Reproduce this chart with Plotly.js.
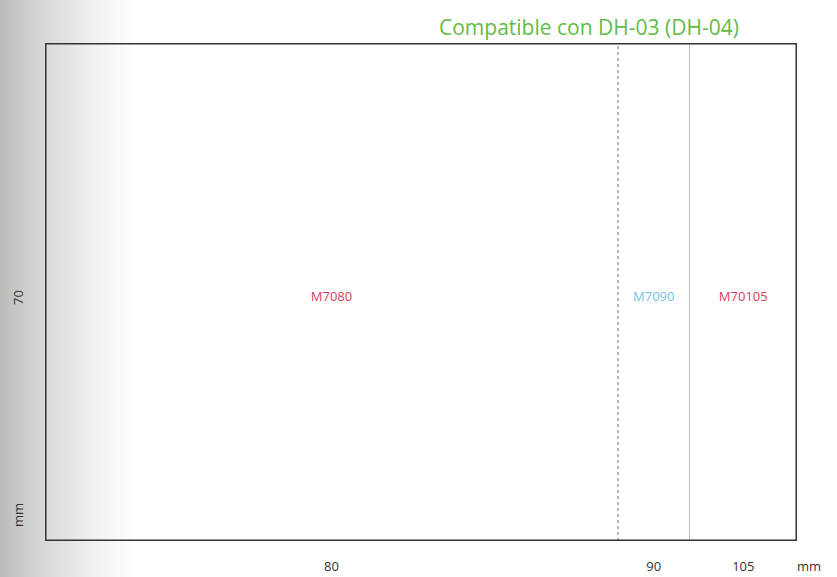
<!DOCTYPE html>
<html>
<head>
<meta charset="utf-8">
<script src="https://cdn.plot.ly/plotly-3.0.1.min.js"></script>
<style>
html,body{margin:0;padding:0;width:837px;height:577px;overflow:hidden;
background:linear-gradient(to right,#bcbcbc 0px,#d6d6d6 40px,#ececec 85px,#fafafa 120px,#ffffff 140px);}
#chart{width:837px;height:577px;}
</style>
</head>
<body>
<div id="chart"></div>
<script>
// Data
const widths = [80, 90, 105];            // label width boundaries (mm)
const models = ['M7080', 'M7090', 'M70105'];
const modelColors = ['#d8405e', '#6cc4e4', '#d8405e'];
const tickLabels = ['80', '90', '105'];
const heightMM = 70;
const heightLabel = '70';
const titleText = 'Compatible con DH-03 (DH-04)';

// midpoints of each segment
const mids = widths.map((w, i) => ((i === 0 ? 0 : widths[i - 1]) + w) / 2);

const trace = {
  x: mids,
  y: mids.map(() => heightMM * 0.488),
  mode: 'text',
  text: models,
  textfont: {family: 'Open Sans, sans-serif', size: 13, color: modelColors},
  textposition: 'middle center',
  hoverinfo: 'none',
  showlegend: false
};

const shapes = [
  {type: 'line', xref: 'x', yref: 'y', x0: widths[0], x1: widths[0], y0: 0, y1: heightMM,
   line: {color: '#a0a0a0', width: 1.5, dash: 'dot'}},
  {type: 'line', xref: 'x', yref: 'y', x0: widths[1], x1: widths[1], y0: 0, y1: heightMM,
   line: {color: '#b8b8b8', width: 1}},
  {type: 'rect', xref: 'x', yref: 'y', x0: 0, x1: widths[2], y0: 0, y1: heightMM,
   line: {color: '#333333', width: 3}}
];

const layout = {
  width: 837, height: 577,
  margin: {l: 45, r: 40, t: 43, b: 36},
  paper_bgcolor: 'rgba(0,0,0,0)',
  plot_bgcolor: 'rgba(0,0,0,0)',
  xaxis: {range: [0, widths[2]], showgrid: false, zeroline: false, showline: false,
          tickvals: mids, ticktext: tickLabels, ticks: '', ticklabelstandoff: 16,
          tickfont: {family: 'Open Sans, sans-serif', size: 13, color: '#333'}, fixedrange: true},
  yaxis: {range: [0, heightMM], showgrid: false, zeroline: false, showline: false,
          showticklabels: false, ticks: '', fixedrange: true},
  shapes: shapes,
  annotations: [
    {text: titleText, xref: 'paper', yref: 'paper', x: (589 - 45) / 752, y: 1, yshift: 16,
     xanchor: 'center', yanchor: 'middle', showarrow: false,
     font: {family: 'Liberation Sans Narrow, Open Sans, sans-serif', size: 21, color: '#62bb48'}},
    {text: heightLabel, xref: 'paper', yref: 'paper', x: 0, xshift: -27, y: 0.488,
     textangle: -90, showarrow: false, xanchor: 'center', yanchor: 'middle',
     font: {family: 'Open Sans, sans-serif', size: 13, color: '#333'}},
    {text: 'mm', xref: 'paper', yref: 'paper', x: 0, xshift: -27, y: 0.052,
     textangle: -90, showarrow: false, xanchor: 'center', yanchor: 'middle',
     font: {family: 'Open Sans, sans-serif', size: 13, color: '#333'}},
    {text: 'mm', xref: 'paper', yref: 'paper', x: 1, xshift: 12, y: 0, yshift: -25,
     showarrow: false, xanchor: 'center', yanchor: 'middle',
     font: {family: 'Open Sans, sans-serif', size: 13, color: '#333'}}
  ]
};

Plotly.newPlot('chart', [trace], layout, {displayModeBar: false, staticPlot: true});
</script>
</body>
</html>
